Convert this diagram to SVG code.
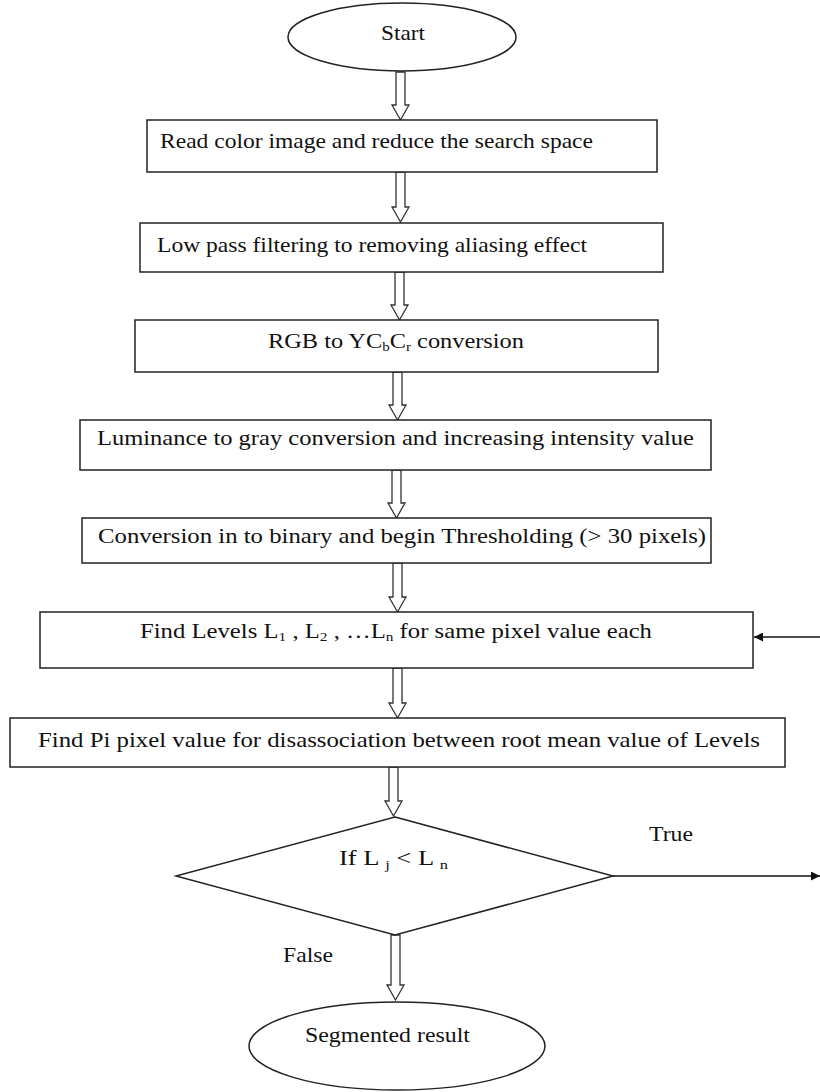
<svg xmlns="http://www.w3.org/2000/svg" width="820" height="1092" viewBox="0 0 820 1092">
<style>
.n{fill:#fff;stroke:#222;stroke-width:1.5}
.t{font-family:"Liberation Serif","Times New Roman",serif;font-size:21px;fill:#111}
.sub{font-size:13px}
.ba{fill:#fff;stroke:#333;stroke-width:1.3}
.ln{fill:none;stroke:#111;stroke-width:1.5}
</style>
<defs>
<marker id="ah" viewBox="0 0 10 10" refX="10" refY="5" markerWidth="9" markerHeight="9" markerUnits="userSpaceOnUse" orient="auto"><path d="M0,0 L10,5 L0,10 Z" fill="#111"/></marker>
</defs>
<rect width="820" height="1092" fill="#fff"/>
<g id="connectors">
<path class="ba" d="M396,72 H405 V105 H409 L400.5,120 L392,105 H396 Z"/>
<path class="ba" d="M396,172 H405 V207 H409 L400.5,222 L392,207 H396 Z"/>
<path class="ba" d="M395,272 H404 V305 H408 L399.5,320 L391,305 H395 Z"/>
<path class="ba" d="M393,372 H402 V405 H406 L397.5,420 L389,405 H393 Z"/>
<path class="ba" d="M392,470 H401 V503 H405 L396.5,518 L388,503 H392 Z"/>
<path class="ba" d="M393,563 H402 V597 H406 L397.5,612 L389,597 H393 Z"/>
<path class="ba" d="M393,668 H402 V703 H406 L397.5,718 L389,703 H393 Z"/>
<path class="ba" d="M389,767 H398 V801 H402 L393.5,816 L385,801 H389 Z"/>
<path class="ba" d="M391,935 H400 V985 H404 L395.5,1000 L387,985 H391 Z"/>
<line class="ln" x1="820" y1="637" x2="754" y2="637" marker-end="url(#ah)"/>
<line class="ln" x1="613" y1="876" x2="820" y2="876" marker-end="url(#ah)"/>
<text class="t" x="649" y="841" textLength="44" lengthAdjust="spacingAndGlyphs">True</text>
<text class="t" x="283" y="962" textLength="50" lengthAdjust="spacingAndGlyphs">False</text>
</g>
<g id="start"><ellipse class="n" cx="402" cy="37" rx="114" ry="34"/><text class="t" x="381" y="40" textLength="44" lengthAdjust="spacingAndGlyphs">Start</text></g>
<g id="read"><rect class="n" x="147" y="120" width="510" height="52"/><text class="t" x="160" y="148" textLength="433" lengthAdjust="spacingAndGlyphs">Read color image and reduce the search space</text></g>
<g id="lowpass"><rect class="n" x="140" y="223" width="523" height="49"/><text class="t" x="157" y="252" textLength="430" lengthAdjust="spacingAndGlyphs">Low pass filtering to removing aliasing effect</text></g>
<g id="rgb"><rect class="n" x="135" y="320" width="523" height="52"/><text class="t" x="268" y="348" textLength="256" lengthAdjust="spacingAndGlyphs">RGB to YC<tspan class="sub" dy="3">b</tspan><tspan dy="-3">C</tspan><tspan class="sub" dy="3">r</tspan><tspan dy="-3"> conversion</tspan></text></g>
<g id="lum"><rect class="n" x="80" y="420" width="631" height="50"/><text class="t" x="97" y="445" textLength="597" lengthAdjust="spacingAndGlyphs">Luminance to gray conversion and increasing intensity value</text></g>
<g id="bin"><rect class="n" x="82" y="518" width="629" height="45"/><text class="t" x="98" y="543" textLength="608" lengthAdjust="spacingAndGlyphs">Conversion in to binary and begin Thresholding (&gt; 30 pixels)</text></g>
<g id="levels"><rect class="n" x="40" y="612" width="713" height="56"/><text class="t" x="140" y="638" textLength="512" lengthAdjust="spacingAndGlyphs">Find Levels L<tspan class="sub" dy="3">1</tspan><tspan dy="-3"> , L</tspan><tspan class="sub" dy="3">2</tspan><tspan dy="-3"> , …L</tspan><tspan class="sub" dy="3">n</tspan><tspan dy="-3"> for same pixel value each</tspan></text></g>
<g id="findpi"><rect class="n" x="10" y="718" width="775" height="49"/><text class="t" x="38" y="747" textLength="722" lengthAdjust="spacingAndGlyphs">Find Pi pixel value for disassociation between root mean value of Levels</text></g>
<g id="decision"><polygon class="n" points="395,817 613,876 395,935 176,876"/><text class="t" x="339" y="865" textLength="109" lengthAdjust="spacingAndGlyphs">If L <tspan class="sub" dy="4">j</tspan><tspan dy="-4"> &lt; L </tspan><tspan class="sub" dy="4">n</tspan></text></g>
<g id="result"><ellipse class="n" cx="397" cy="1046" rx="148" ry="44"/><text class="t" x="305" y="1042" textLength="165" lengthAdjust="spacingAndGlyphs">Segmented result</text></g>
</svg>
